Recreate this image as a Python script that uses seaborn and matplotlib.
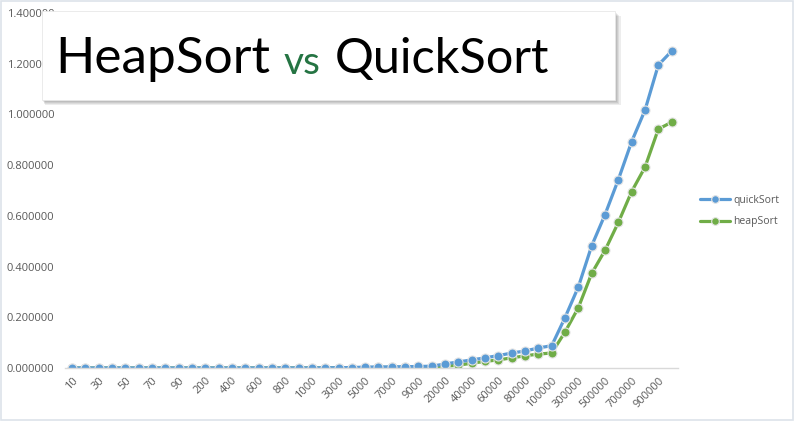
import numpy as np
import pandas as pd
import seaborn as sns
import matplotlib.pyplot as plt
from matplotlib.patches import Rectangle
from matplotlib.lines import Line2D

# input sizes (category axis, every other one labelled)
sizes = ['10', '20', '30', '40', '50', '60', '70', '80', '90',
         '100', '200', '300', '400', '500', '600', '700', '800', '900',
         '1000', '2000', '3000', '4000', '5000', '6000', '7000', '8000', '9000',
         '10000', '20000', '30000', '40000', '50000', '60000', '70000', '80000', '90000',
         '100000', '200000', '300000', '400000', '500000', '600000', '700000', '800000', '900000',
         '1000000']

# seconds
quick_sort = [0.000002, 0.000003, 0.000005, 0.000006, 0.000008, 0.000010, 0.000011, 0.000013, 0.000015,
              0.000017, 0.00004, 0.00007, 0.0001, 0.00013, 0.00016, 0.0002, 0.00023, 0.00027,
              0.0003, 0.0007, 0.0012, 0.0018, 0.0035, 0.004, 0.0045, 0.005, 0.006,
              0.007, 0.016, 0.024, 0.032, 0.040, 0.049, 0.059, 0.067, 0.079,
              0.088, 0.199, 0.320, 0.482, 0.605, 0.743, 0.893, 1.017, 1.195,
              1.250]
heap_sort = [0.000001, 0.000002, 0.000003, 0.000004, 0.000005, 0.000006, 0.000007, 0.000008, 0.000009,
             0.00001, 0.00003, 0.00005, 0.00007, 0.0001, 0.00012, 0.00014, 0.00017, 0.0002,
             0.00022, 0.0005, 0.0008, 0.0012, 0.0016, 0.002, 0.0024, 0.0028, 0.0032,
             0.004, 0.007, 0.011, 0.019, 0.026, 0.032, 0.040, 0.048, 0.055,
             0.059, 0.142, 0.238, 0.373, 0.464, 0.574, 0.696, 0.792, 0.942,
             0.970]

blue = '#5B9BD5'
green = '#70AD47'
grey_txt = '#595959'

df = pd.DataFrame({
    'pos': list(range(len(sizes))) * 2,
    'time': quick_sort + heap_sort,
    'algo': ['quickSort'] * len(sizes) + ['heapSort'] * len(sizes),
})

sns.set_style('white')
plt.rcParams['font.family'] = ['Open Sans', 'DejaVu Sans']

fig = plt.figure(figsize=(7.95, 4.21), dpi=100)
ax = fig.add_axes([0.0822, 0.1259, 0.771, 0.843])
ax.set_facecolor('none')

sns.lineplot(data=df, x='pos', y='time', hue='algo', hue_order=['heapSort', 'quickSort'],
             palette={'quickSort': blue, 'heapSort': green}, marker='o', markersize=6.5,
             markeredgecolor='#e4e4e4', markeredgewidth=0.8, linewidth=2.3,
             legend=False, ax=ax)

ax.set_xlim(-0.5, len(sizes) - 0.5)
ax.set_ylim(0, 1.4)
ax.set_yticks(np.arange(0, 1.41, 0.2))
ax.set_yticklabels([f'{v:.6f}' for v in np.arange(0, 1.41, 0.2)], color=grey_txt, fontsize=8)
ax.set_xticks(range(0, len(sizes) - 1, 2))
ax.set_xticklabels(sizes[0:len(sizes) - 1:2], rotation=45, ha='right', va='top',
                   rotation_mode='anchor', color=grey_txt, fontsize=8)
ax.tick_params(axis='both', length=0)
ax.tick_params(axis='y', pad=8)
ax.tick_params(axis='x', pad=5)
ax.set_xlabel('')
ax.set_ylabel('')
for s in ['top', 'right', 'left']:
    ax.spines[s].set_visible(False)
ax.spines['bottom'].set_color('#d9d9d9')
ax.spines['bottom'].set_linewidth(1)

# legend on the right
handles = [Line2D([], [], color=blue, lw=2.3, marker='o', markersize=5.5, markeredgecolor='#e4e4e4', markeredgewidth=0.8),
           Line2D([], [], color=green, lw=2.3, marker='o', markersize=5.5, markeredgecolor='#e4e4e4', markeredgewidth=0.8)]
fig.legend(handles, ['quickSort', 'heapSort'], loc='center left', bbox_to_anchor=(700 / 795, 1 - 211 / 421),
           frameon=False, fontsize=7.5, handlelength=2.9, handletextpad=0.3, labelspacing=1.05,
           borderpad=0, borderaxespad=0, labelcolor=grey_txt)

# title box with soft shadow
W, H = 795, 421
bx, by, bw, bh = 42, 11, 573, 89
for i in range(1, 6):
    fig.patches.append(Rectangle(((bx + i * 0.6) / W, 1 - (by + bh + i) / H), (bw + i * 0.5) / W, bh / H,
                                 transform=fig.transFigure, facecolor='black', alpha=0.07,
                                 edgecolor='none', zorder=5))
fig.patches.append(Rectangle((bx / W, 1 - (by + bh) / H), bw / W, bh / H, transform=fig.transFigure,
                             facecolor='white', edgecolor='#e8e8e8', lw=0.6, zorder=6))
base = 1 - 73.5 / H
tfont = ['Lato', 'DejaVu Sans']
fig.text(55 / W, base, 'HeapSort', fontsize=37, family=tfont, color='black',
         va='baseline', ha='left', zorder=7)
fig.text(284 / W, base, 'vs', fontsize=28, family=tfont, color='#257443',
         va='baseline', ha='left', zorder=7)
fig.text(335 / W, base, 'QuickSort', fontsize=35, family=tfont, color='black',
         va='baseline', ha='left', zorder=7)

# outer frame
fig.patches.append(Rectangle((0.001, 0.002), 0.997, 0.996, transform=fig.transFigure, fill=False,
                             edgecolor='#dde3ea', lw=1.2, zorder=8))

fig.savefig('out.png', dpi=100)
